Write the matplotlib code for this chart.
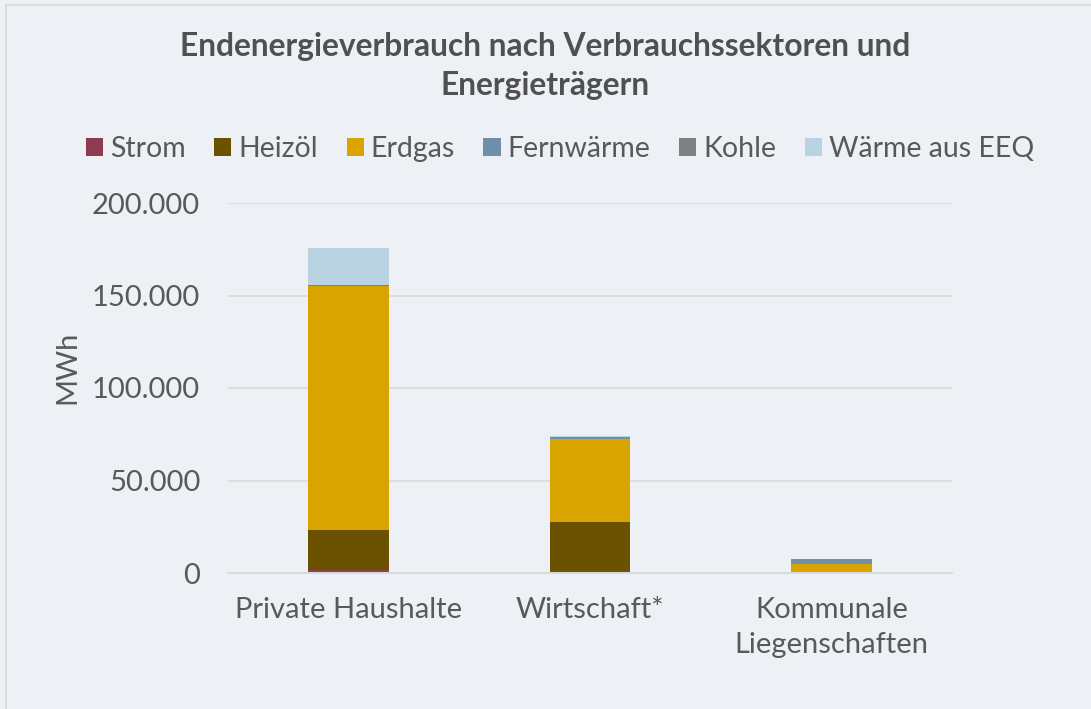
import matplotlib
matplotlib.use("Agg")
import matplotlib.pyplot as plt
from matplotlib.ticker import FuncFormatter
from matplotlib.patches import Rectangle

categories = ["Private Haushalte", "Wirtschaft*", "Kommunale\nLiegenschaften"]
series_names = ["Strom", "Heizöl", "Erdgas", "Fernwärme", "Kohle", "Wärme aus EEQ"]
strom = [1800, 0, 0]
heizoel = [21600, 27700, 0]
erdgas = [131700, 44700, 5000]
fernwaerme = [0, 1000, 2400]
kohle = [800, 0, 0]
waerme_eeq = [19800, 600, 0]
yticks = [0, 50000, 100000, 150000, 200000]

colors = ["#8e3b52", "#6b5200", "#d9a300", "#6f8fa8", "#808080", "#b9d3e2"]
series = [strom, heizoel, erdgas, fernwaerme, kohle, waerme_eeq]

bg = "#edf1f5"
txt = "#595959"
plt.rcParams['font.family'] = ['Lato', 'DejaVu Sans']

fig = plt.figure(figsize=(10.91, 7.09), dpi=100, facecolor=bg)
fig.patches.append(Rectangle((6/1091, -0.01), 1.1, 1 - 5/709 + 0.01, transform=fig.transFigure,
                             fill=False, edgecolor="#dcdcdc", linewidth=1.5))
ax = fig.add_axes([228/1091, (709-573)/709, (952-228)/1091, (573-203)/709])
ax.set_facecolor(bg)

x = list(range(len(categories)))
bottom = [0]*len(categories)
handles = []
for name, vals, c in zip(series_names, series, colors):
    b = ax.bar(x, vals, width=0.335, bottom=bottom, color=c, label=name, linewidth=0)
    handles.append(b)
    bottom = [bo + v for bo, v in zip(bottom, vals)]

ax.set_xlim(-0.5, 2.5)
ax.set_ylim(0, 200000)
ax.set_yticks(yticks)
ax.yaxis.set_major_formatter(FuncFormatter(lambda v, p: f"{int(v):,}".replace(",", ".")))
ax.set_xticks(x)
ax.set_xticklabels(categories, fontsize=21, color=txt, linespacing=1.45)
ax.tick_params(axis='y', labelsize=21, labelcolor=txt, length=0, pad=20)
ax.tick_params(axis='x', length=0, pad=17)
ax.grid(axis='y', color="#d9d9d9", linewidth=1.2)
ax.set_axisbelow(True)
for s in ["top", "right", "left"]:
    ax.spines[s].set_visible(False)
ax.spines["bottom"].set_color("#d9d9d9")
ax.spines["bottom"].set_linewidth(1.5)
ax.set_ylabel("MWh", fontsize=21, color=txt)
ax.yaxis.set_label_coords((80 - 228)/724, (573 - 367)/370)

fig.text(0.5, 1 - 66/709, "Endenergieverbrauch nach Verbrauchssektoren und\nEnergieträgern",
         ha='center', va='center', fontsize=22.9, fontweight='bold', color="#505050", linespacing=1.38)

fig.legend(handles=handles, labels=series_names, loc='center', bbox_to_anchor=(560/1091, 1 - 149/709),
           ncol=6, frameon=False, fontsize=20.5, labelcolor=txt, handlelength=0.6, handleheight=0.6,
           handletextpad=0.25, columnspacing=1.0, borderaxespad=0)

fig.savefig("out.png", dpi=100, facecolor=bg)
